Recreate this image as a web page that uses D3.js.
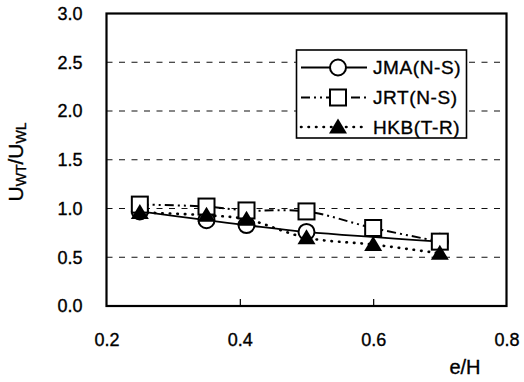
<!DOCTYPE html>
<html>
<head>
<meta charset="utf-8">
<script src="https://cdn.jsdelivr.net/npm/d3@7"></script>
<style>
  body { margin: 0; background: #fff; }
  text { font-family: "Liberation Sans", Arial, sans-serif; fill: #000; stroke: #000; stroke-width: 0.35px; }
</style>
</head>
<body>
<svg id="chart"></svg>
<script>
let width = 524, height = 382;

// values (null = no point there)
let eH = [0.25, 0.35, 0.41, 0.5, 0.6, 0.7];
let jma = [0.97, 0.88, 0.83, 0.76, null, 0.66];
let jrt = [1.04, 1.02, 0.98, 0.97, 0.80, 0.66];
let hkb = [0.96, 0.93, 0.89, 0.70, 0.63, 0.54];
let xTicks = [0.2, 0.4, 0.6, 0.8];
let yTicks = [0, 0.5, 1.0, 1.5, 2.0, 2.5, 3.0];
let seriesNames = ["JMA(N-S)", "JRT(N-S)", "HKB(T-R)"];

let svg = d3.select("#chart")
  .attr("width", width)
  .attr("height", height);

let x = d3.scaleLinear().domain([0.2, 0.8]).range([106.5, 506.5]);
let y = d3.scaleLinear().domain([0, 3]).range([306, 13.5]);

// dashed grid lines
svg.append("g")
  .selectAll("line")
  .data(yTicks.filter(d => d > 0 && d < 3))
  .enter().append("line")
    .attr("x1", x(0.2)).attr("x2", x(0.8))
    .attr("y1", d => y(d)).attr("y2", d => y(d))
    .attr("stroke", "#111")
    .attr("stroke-width", 1.2)
    .attr("stroke-dasharray", "6,6.5");

// axes (labels only, ticks inside)
let xAxis = svg.append("g")
  .attr("transform", "translate(0," + y(0) + ")")
  .call(d3.axisBottom(x).tickValues(xTicks).tickFormat(d3.format(".1f")).tickSize(-7).tickPadding(27));
xAxis.select(".domain").remove();
xAxis.selectAll(".tick line").attr("stroke", "#000").attr("stroke-width", 1.2)
  .filter(d => d === 0.2 || d === 0.8).remove();
xAxis.selectAll("text").attr("font-size", 18).attr("font-family", "Liberation Sans, Arial, sans-serif");

let yAxis = svg.append("g")
  .attr("transform", "translate(" + x(0.2) + ",0)")
  .call(d3.axisLeft(y).tickValues(yTicks).tickFormat(d3.format(".1f")).tickSize(0).tickPadding(24));
yAxis.select(".domain").remove();
yAxis.selectAll("text").attr("font-size", 18).attr("font-family", "Liberation Sans, Arial, sans-serif");

// plot border
svg.append("rect")
  .attr("x", x(0.2)).attr("y", y(3))
  .attr("width", x(0.8) - x(0.2))
  .attr("height", y(0) - y(3))
  .attr("fill", "none")
  .attr("stroke", "#000")
  .attr("stroke-width", 2.2);

let styles = [
  { dash: null, width: 1.8, cap: "butt" },
  { dash: "9,4,2,4,2,4", width: 2, cap: "butt" },
  { dash: "0.5,7", width: 2.6, cap: "round" }
];

let line = d3.line()
  .x(d => x(d[0]))
  .y(d => y(d[1]))
  .curve(d3.curveCatmullRom);

let allSeries = [jma, jrt, hkb];

allSeries.forEach((vals, i) => {
  svg.append("path")
    .datum(eH.map((e, j) => [e, vals[j]]).filter(d => d[1] != null))
    .attr("d", line)
    .attr("fill", "none")
    .attr("stroke", "#000")
    .attr("stroke-width", styles[i].width)
    .attr("stroke-linecap", styles[i].cap)
    .attr("stroke-dasharray", styles[i].dash);
});

const drawMarker = (g, i, cx, cy) => {
  if (i === 0) {
    g.append("circle").attr("cx", cx).attr("cy", cy).attr("r", 8)
      .attr("fill", "#fff").attr("stroke", "#000").attr("stroke-width", 2);
  } else if (i === 1) {
    g.append("rect").attr("x", cx - 8).attr("y", cy - 8)
      .attr("width", 16).attr("height", 16)
      .attr("fill", "#fff").attr("stroke", "#000").attr("stroke-width", 2);
  } else {
    g.append("path")
      .attr("d", "M" + cx + "," + (cy - 8.5) + "L" + (cx + 9) + "," + (cy + 6.5) + "L" + (cx - 9) + "," + (cy + 6.5) + "Z")
      .attr("fill", "#000");
  }
};

let gMarks = svg.append("g");
allSeries.forEach((vals, i) => {
  eH.forEach((e, j) => {
    if (vals[j] != null) drawMarker(gMarks, i, x(e), y(vals[j]));
  });
});

// legend
let legend = svg.append("g");
legend.append("rect")
  .attr("x", 296.5).attr("y", 50)
  .attr("width", 170).attr("height", 88)
  .attr("fill", "#fff")
  .attr("stroke", "#000")
  .attr("stroke-width", 1.6);

let legendRows = [67.5, 97.5, 127];
seriesNames.forEach((name, i) => {
  let ly = legendRows[i];
  legend.append("line")
    .attr("x1", 301).attr("x2", 367)
    .attr("y1", ly).attr("y2", ly)
    .attr("stroke", "#000")
    .attr("stroke-width", styles[i].width)
    .attr("stroke-linecap", styles[i].cap)
    .attr("stroke-dasharray", styles[i].dash);
  drawMarker(legend, i, 338, ly);
  legend.append("text")
    .attr("x", 373).attr("y", ly)
    .attr("dy", "0.35em")
    .attr("font-size", 19)
    .attr("letter-spacing", 0.6)
    .text(name);
});

// axis titles
let yTitle = svg.append("text")
  .attr("transform", "translate(23,162) rotate(-90)")
  .attr("text-anchor", "middle")
  .attr("font-size", 21);
yTitle.append("tspan").text("U");
yTitle.append("tspan").attr("font-size", 14).attr("dy", 3).text("WT");
yTitle.append("tspan").attr("dy", -3).text("/U");
yTitle.append("tspan").attr("font-size", 14).attr("dy", 3).text("WL");

svg.append("text")
  .attr("x", 465).attr("y", 374)
  .attr("text-anchor", "middle")
  .attr("font-size", 20)
  .text("e/H");
</script>
</body>
</html>
